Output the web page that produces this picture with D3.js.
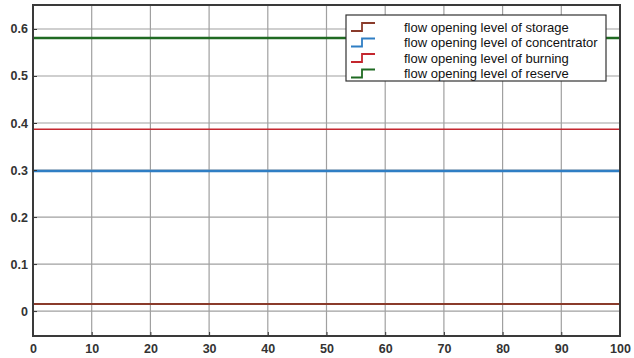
<!DOCTYPE html>
<html>
<head>
<meta charset="utf-8">
<script src="https://cdn.jsdelivr.net/npm/d3@7"></script>
<style>
  body { margin: 0; background: #fff; }
  svg { font-family: "Liberation Sans", Arial, sans-serif; }
</style>
</head>
<body>
<svg id="chart" width="634" height="358"></svg>
<script>
// data
var seriesNames = ['flow opening level of storage', 'flow opening level of concentrator',
                   'flow opening level of burning', 'flow opening level of reserve'];
var seriesLevels = [0.015, 0.298, 0.387, 0.581];
var seriesColors = ['#8a3b2b', '#2f7ec4', '#c4262e', '#1f6a22'];
var seriesWidths = [2, 2.5, 1.5, 2.5];
var xTicks = [0, 10, 20, 30, 40, 50, 60, 70, 80, 90, 100];
var yTicks = [0, 0.1, 0.2, 0.3, 0.4, 0.5, 0.6];
var xExtent = [0, 100];
var yExtent = [-0.053, 0.651];

var svg = d3.select('#chart');
var margin = {left: 33, right: 14, top: 5, bottom: 22};
var W = 634, H = 358;

var x = d3.scaleLinear().domain(xExtent).range([margin.left, W - margin.right]);
var y = d3.scaleLinear().domain(yExtent).range([H - margin.bottom, margin.top]);

// grid
var grid = svg.append('g');
grid.selectAll('line.gx').data(xTicks).enter().append('line')
  .attr('x1', function(d) { return x(d); }).attr('x2', function(d) { return x(d); })
  .attr('y1', y(yExtent[0])).attr('y2', y(yExtent[1]))
  .style('stroke', '#a0a0a0').style('stroke-width', 1.2);
grid.selectAll('line.gy').data(yTicks).enter().append('line')
  .attr('y1', function(d) { return y(d); }).attr('y2', function(d) { return y(d); })
  .attr('x1', x(xExtent[0])).attr('x2', x(xExtent[1]))
  .style('stroke', '#a0a0a0').style('stroke-width', 1.2);

// series (constant levels across the x range)
svg.append('g').selectAll('line').data(seriesLevels).enter().append('line')
  .attr('x1', x(xExtent[0])).attr('x2', x(xExtent[1]))
  .attr('y1', function(d) { return y(d); }).attr('y2', function(d) { return y(d); })
  .style('stroke', function(d, i) { return seriesColors[i]; })
  .style('stroke-width', function(d, i) { return seriesWidths[i]; });

// axes with inward ticks
var xAxis = svg.append('g').attr('transform', 'translate(0,' + y(yExtent[0]) + ')')
  .call(d3.axisBottom(x).tickValues(xTicks).tickSizeInner(-4).tickSizeOuter(0).tickPadding(8));
var yAxis = svg.append('g').attr('transform', 'translate(' + x(xExtent[0]) + ',0)')
  .call(d3.axisLeft(y).tickValues(yTicks).tickSizeInner(-4).tickSizeOuter(0).tickPadding(5)
    .tickFormat(function(d) { return d === 0 ? '0' : d3.format('.1f')(d); }));
[xAxis, yAxis].forEach(function(a) {
  a.select('.domain').remove();
  a.selectAll('.tick line').style('stroke', '#333');
  a.selectAll('text').style('font-size', '12.5px').style('font-weight', 'bold').style('fill', '#333');
});

// frame
svg.append('rect')
  .attr('x', x(xExtent[0])).attr('y', y(yExtent[1]))
  .attr('width', x(xExtent[1]) - x(xExtent[0])).attr('height', y(yExtent[0]) - y(yExtent[1]))
  .style('fill', 'none').style('stroke', '#3a3a3a').style('stroke-width', 2);

// legend
var legend = svg.append('g').attr('transform', 'translate(346,15)');
legend.append('rect').attr('width', 260).attr('height', 66)
  .style('fill', '#fff').style('stroke', '#333').style('stroke-width', 1.2);
var rows = legend.selectAll('g.row').data(seriesNames).enter().append('g')
  .attr('transform', function(d, i) { return 'translate(0,' + (12 + i * 15.5) + ')'; });
rows.append('path')
  .attr('d', 'M5 4 H16 V-4 H29')
  .style('fill', 'none')
  .style('stroke', function(d, i) { return seriesColors[i]; })
  .style('stroke-width', 1.8);
rows.append('text').attr('x', 58).attr('y', 4.5)
  .style('font-size', '13px').style('fill', '#111')
  .text(function(d) { return d; });
</script>
</body>
</html>
